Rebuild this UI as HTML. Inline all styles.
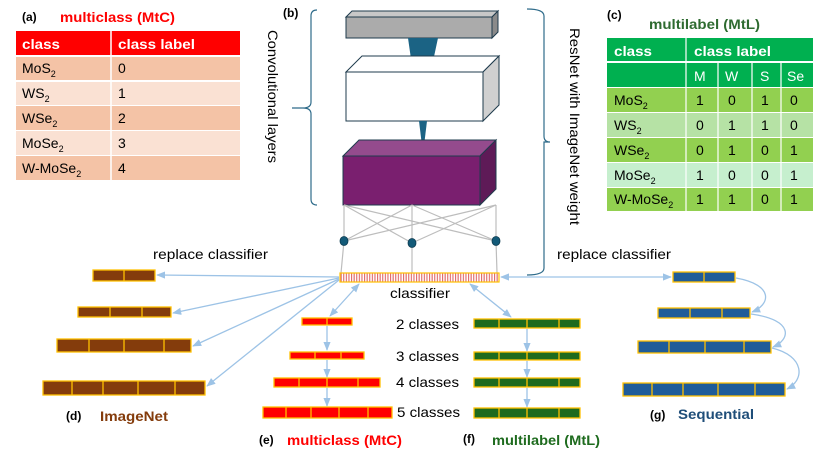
<!DOCTYPE html>
<html><head><meta charset="utf-8"><style>
body{margin:0;background:#fff;}
svg{display:block;font-family:"Liberation Sans",sans-serif;}
</style></head><body>
<svg width="830" height="467" viewBox="0 0 830 467" xmlns="http://www.w3.org/2000/svg">
<defs>
<marker id="ah" viewBox="0 0 10 10" refX="9" refY="5" markerWidth="7" markerHeight="7" orient="auto-start-reverse"><path d="M0,1 L10,5 L0,9 z" fill="#9dc3e6"/></marker>
<pattern id="stripe" width="2.6" height="10" patternUnits="userSpaceOnUse"><rect width="2.6" height="10" fill="#fff"/><rect width="1.1" height="10" fill="#e06666"/></pattern>
</defs>

<!-- (a) table -->
<text x="22" y="21" font-size="12" font-weight="bold">(a)</text>
<text x="60" y="22" font-size="14" font-weight="bold" fill="#ff0000" textLength="115" lengthAdjust="spacingAndGlyphs">multiclass (MtC)</text>
<rect x="16" y="31" width="224" height="24" fill="#ff0000"/>
<rect x="16" y="57" width="224" height="23" fill="#f4c3a6"/>
<rect x="16" y="82" width="224" height="23" fill="#fae1d3"/>
<rect x="16" y="106" width="224" height="24" fill="#f4c3a6"/>
<rect x="16" y="131" width="224" height="24" fill="#fae1d3"/>
<rect x="16" y="156" width="224" height="24" fill="#f4c3a6"/>
<line x1="111" y1="31" x2="111" y2="180" stroke="#fff" stroke-width="1.5"/>
<g font-size="14">
<text x="22" y="49" fill="#fff" font-weight="bold" textLength="38" lengthAdjust="spacingAndGlyphs">class</text>
<text x="118" y="49" fill="#fff" font-weight="bold" textLength="77" lengthAdjust="spacingAndGlyphs">class label</text>
<text x="22" y="73">MoS<tspan font-size="9" dy="4">2</tspan></text><text x="118" y="73">0</text>
<text x="22" y="98">WS<tspan font-size="9" dy="4">2</tspan></text><text x="118" y="98">1</text>
<text x="22" y="123">WSe<tspan font-size="9" dy="4">2</tspan></text><text x="118" y="123">2</text>
<text x="22" y="148">MoSe<tspan font-size="9" dy="4">2</tspan></text><text x="118" y="148">3</text>
<text x="22" y="173">W-MoSe<tspan font-size="9" dy="4">2</tspan></text><text x="118" y="173">4</text>
</g>

<!-- (c) table -->
<text x="607" y="19" font-size="12" font-weight="bold">(c)</text>
<text x="649" y="29" font-size="14" font-weight="bold" fill="#2e6b30" textLength="111" lengthAdjust="spacingAndGlyphs">multilabel (MtL)</text>
<rect x="607" y="38" width="206" height="23" fill="#00b050"/>
<rect x="607" y="63" width="206" height="24" fill="#00b050"/>
<rect x="607" y="88" width="206" height="24" fill="#92d050"/>
<rect x="607" y="113" width="206" height="24" fill="#b6e2a5"/>
<rect x="607" y="138" width="206" height="24" fill="#92d050"/>
<rect x="607" y="163" width="206" height="24" fill="#c6efce"/>
<rect x="607" y="188" width="206" height="23" fill="#92d050"/>
<g stroke="#fff" stroke-width="1.2">
<line x1="686" y1="38" x2="686" y2="211"/>
<line x1="718" y1="62" x2="718" y2="211"/><line x1="752" y1="62" x2="752" y2="211"/><line x1="781" y1="62" x2="781" y2="211"/>
</g>
<g font-size="14">
<text x="614" y="56" fill="#fff" font-weight="bold" textLength="38" lengthAdjust="spacingAndGlyphs">class</text>
<text x="694" y="56" fill="#fff" font-weight="bold" textLength="77" lengthAdjust="spacingAndGlyphs">class label</text>
<text x="694" y="81" fill="#fff">M</text><text x="725" y="81" fill="#fff">W</text><text x="760" y="81" fill="#fff">S</text><text x="787" y="81" fill="#fff">Se</text>
<text x="614" y="105">MoS<tspan font-size="9" dy="4">2</tspan></text>
<text x="614" y="130">WS<tspan font-size="9" dy="4">2</tspan></text>
<text x="614" y="155">WSe<tspan font-size="9" dy="4">2</tspan></text>
<text x="614" y="180">MoSe<tspan font-size="9" dy="4">2</tspan></text>
<text x="614" y="204">W-MoSe<tspan font-size="9" dy="4">2</tspan></text>
<text x="696" y="105">1</text><text x="728" y="105">0</text><text x="761" y="105">1</text><text x="790" y="105">0</text>
<text x="696" y="130">0</text><text x="728" y="130">1</text><text x="761" y="130">1</text><text x="790" y="130">0</text>
<text x="696" y="155">0</text><text x="728" y="155">1</text><text x="761" y="155">0</text><text x="790" y="155">1</text>
<text x="696" y="180">1</text><text x="728" y="180">0</text><text x="761" y="180">0</text><text x="790" y="180">1</text>
<text x="696" y="204">1</text><text x="728" y="204">1</text><text x="761" y="204">0</text><text x="790" y="204">1</text>
</g>

<!-- (b) network -->
<text x="283" y="17" font-size="12" font-weight="bold">(b)</text>
<path d="M317,10 Q311,10 311,16 L311,102 Q311,108 303,108 L292,108 L303,108 Q311,108 311,114 L311,199 Q311,205 317,205" fill="none" stroke="#2e6b8a" stroke-width="1.2"/>
<path d="M527,9 Q544,9 544,16 L544,136 Q544,142 550,142 L544,142 Q544,148 544,154 L544,268 Q544,275 527,275" fill="none" stroke="#2e6b8a" stroke-width="1.2"/>
<text transform="translate(268,30) rotate(90)" font-size="14" textLength="133" lengthAdjust="spacingAndGlyphs">Convolutional layers</text>
<text transform="translate(570,28) rotate(90)" font-size="14" textLength="197" lengthAdjust="spacingAndGlyphs">ResNet with ImageNet weight</text>

<polygon points="346,17 352,11 498,11 492,17" fill="#c8c8c8" stroke="#1f3b4d" stroke-width="1"/>
<polygon points="492,17 498,11 498,32 492,38" fill="#8a8a8a" stroke="#1f3b4d" stroke-width="1"/>
<rect x="346" y="17" width="146" height="21" fill="#ababab" stroke="#1f3b4d" stroke-width="1"/>
<polygon points="408,38 438,38 432,66 412,66" fill="#1b6384"/>
<polygon points="346,72 362,56 499,56 483,72" fill="#fff" stroke="#1f3b4d" stroke-width="1"/>
<polygon points="483,72 499,56 499,105 483,121" fill="#d0d0d0" stroke="#1f3b4d" stroke-width="1"/>
<rect x="346" y="72" width="137" height="49" fill="#fff" stroke="#1f3b4d" stroke-width="1"/>
<polygon points="419,121 427,121 423,154" fill="#1b6384"/>
<polygon points="343,156 359,140 496,140 480,156" fill="#944b8d" stroke="#1f3b4d" stroke-width="1"/>
<polygon points="480,156 496,140 496,189 480,205" fill="#5e1a57" stroke="#1f3b4d" stroke-width="1"/>
<rect x="343" y="156" width="137" height="49" fill="#7a1f6f" stroke="#1f3b4d" stroke-width="1"/>
<g stroke="#bdbdbd" stroke-width="1.2">
<line x1="344" y1="205" x2="344" y2="241"/><line x1="344" y1="205" x2="412" y2="243"/><line x1="344" y1="205" x2="496" y2="241"/>
<line x1="412" y1="205" x2="344" y2="241"/><line x1="412" y1="205" x2="412" y2="243"/><line x1="412" y1="205" x2="496" y2="241"/>
<line x1="496" y1="205" x2="344" y2="241"/><line x1="496" y1="205" x2="412" y2="243"/><line x1="496" y1="205" x2="496" y2="241"/>
<line x1="344" y1="241" x2="341" y2="273"/><line x1="412" y1="243" x2="412" y2="273"/><line x1="496" y1="241" x2="497" y2="273"/>
</g>
<g fill="#135a78" stroke="#0c3b50" stroke-width="0.8">
<ellipse cx="344" cy="241" rx="4" ry="4.5"/><ellipse cx="412" cy="243" rx="4" ry="4.5"/><ellipse cx="496" cy="241" rx="4" ry="4.5"/>
</g>
<rect x="340" y="273" width="159" height="9" fill="url(#stripe)" stroke="#ffc000" stroke-width="1.2"/>
<text x="390" y="298" font-size="14" textLength="60" lengthAdjust="spacingAndGlyphs">classifier</text>

<text x="153" y="259" font-size="14" textLength="115" lengthAdjust="spacingAndGlyphs">replace classifier</text>
<text x="557" y="259" font-size="14" textLength="114" lengthAdjust="spacingAndGlyphs">replace classifier</text>

<g stroke="#9dc3e6" stroke-width="1.3" fill="none">
<line x1="339" y1="277" x2="157" y2="275" marker-end="url(#ah)"/>
<line x1="339" y1="278" x2="173" y2="313" marker-end="url(#ah)"/>
<line x1="339" y1="279" x2="193" y2="346" marker-end="url(#ah)"/>
<line x1="339" y1="280" x2="207" y2="386" marker-end="url(#ah)"/>
<line x1="359" y1="284" x2="330" y2="316" marker-start="url(#ah)" marker-end="url(#ah)"/>
<line x1="470" y1="284" x2="511" y2="317" marker-start="url(#ah)" marker-end="url(#ah)"/>
<line x1="501" y1="277" x2="671" y2="277" marker-start="url(#ah)" marker-end="url(#ah)"/>
<line x1="327" y1="326" x2="327" y2="350" marker-end="url(#ah)"/>
<line x1="327" y1="360" x2="327" y2="377" marker-end="url(#ah)"/>
<line x1="327" y1="388" x2="327" y2="406" marker-end="url(#ah)"/>
<line x1="527" y1="329" x2="527" y2="351" marker-end="url(#ah)"/>
<line x1="527" y1="361" x2="527" y2="377" marker-end="url(#ah)"/>
<line x1="527" y1="388" x2="527" y2="407" marker-end="url(#ah)"/>
<path d="M736,278 C775,285 770,305 752,312" marker-end="url(#ah)"/>
<path d="M751,314 C795,320 790,340 773,347" marker-end="url(#ah)"/>
<path d="M772,348 C805,356 805,380 787,389" marker-end="url(#ah)"/>
</g>

<g stroke="#ffc000" stroke-width="1.3">
<g fill="#843c0c">
<rect x="93" y="270" width="62" height="11"/><line x1="124" y1="270" x2="124" y2="281"/>
<rect x="78" y="307" width="93" height="10"/><line x1="110" y1="307" x2="110" y2="317"/><line x1="142" y1="307" x2="142" y2="317"/>
<rect x="57" y="339" width="134" height="13"/><line x1="89" y1="339" x2="89" y2="352"/><line x1="124" y1="339" x2="124" y2="352"/><line x1="164" y1="339" x2="164" y2="352"/>
<rect x="43" y="381" width="162" height="14"/><line x1="72" y1="381" x2="72" y2="395"/><line x1="103" y1="381" x2="103" y2="395"/><line x1="138" y1="381" x2="138" y2="395"/><line x1="175" y1="381" x2="175" y2="395"/>
</g>
<g fill="#ff0000">
<rect x="302" y="318" width="50" height="7"/><line x1="327" y1="318" x2="327" y2="325"/>
<rect x="290" y="352" width="74" height="7"/><line x1="315" y1="352" x2="315" y2="359"/><line x1="341" y1="352" x2="341" y2="359"/>
<rect x="274" y="378" width="106" height="9"/><line x1="299" y1="378" x2="299" y2="387"/><line x1="327" y1="378" x2="327" y2="387"/><line x1="358" y1="378" x2="358" y2="387"/>
<rect x="263" y="407" width="129" height="11"/><line x1="286" y1="407" x2="286" y2="418"/><line x1="311" y1="407" x2="311" y2="418"/><line x1="339" y1="407" x2="339" y2="418"/><line x1="368" y1="407" x2="368" y2="418"/>
</g>
<g fill="#1e6b1e">
<rect x="474" y="319" width="106" height="9"/><line x1="499" y1="319" x2="499" y2="328"/><line x1="527" y1="319" x2="527" y2="328"/><line x1="559" y1="319" x2="559" y2="328"/>
<rect x="474" y="352" width="106" height="8"/><line x1="499" y1="352" x2="499" y2="360"/><line x1="527" y1="352" x2="527" y2="360"/><line x1="559" y1="352" x2="559" y2="360"/>
<rect x="474" y="378" width="106" height="9"/><line x1="499" y1="378" x2="499" y2="387"/><line x1="527" y1="378" x2="527" y2="387"/><line x1="559" y1="378" x2="559" y2="387"/>
<rect x="474" y="408" width="106" height="10"/><line x1="499" y1="408" x2="499" y2="418"/><line x1="527" y1="408" x2="527" y2="418"/><line x1="559" y1="408" x2="559" y2="418"/>
</g>
<g fill="#1f5c99">
<rect x="673" y="272" width="62" height="10"/><line x1="704" y1="272" x2="704" y2="282"/>
<rect x="658" y="308" width="92" height="10"/><line x1="690" y1="308" x2="690" y2="318"/><line x1="722" y1="308" x2="722" y2="318"/>
<rect x="638" y="341" width="133" height="12"/><line x1="669" y1="341" x2="669" y2="353"/><line x1="705" y1="341" x2="705" y2="353"/><line x1="744" y1="341" x2="744" y2="353"/>
<rect x="623" y="383" width="162" height="13"/><line x1="652" y1="383" x2="652" y2="396"/><line x1="683" y1="383" x2="683" y2="396"/><line x1="718" y1="383" x2="718" y2="396"/><line x1="755" y1="383" x2="755" y2="396"/>
</g>
</g>

<g font-size="14">
<text x="396" y="329" textLength="63" lengthAdjust="spacingAndGlyphs">2 classes</text>
<text x="396" y="361" textLength="63" lengthAdjust="spacingAndGlyphs">3 classes</text>
<text x="396" y="387" textLength="63" lengthAdjust="spacingAndGlyphs">4 classes</text>
<text x="397" y="417" textLength="63" lengthAdjust="spacingAndGlyphs">5 classes</text>
</g>

<text x="66" y="420" font-size="12" font-weight="bold">(d)</text>
<text x="100" y="421" font-size="14" font-weight="bold" fill="#843c0c" textLength="68" lengthAdjust="spacingAndGlyphs">ImageNet</text>
<text x="259" y="444" font-size="12" font-weight="bold">(e)</text>
<text x="287" y="445" font-size="14" font-weight="bold" fill="#ff0000" textLength="115" lengthAdjust="spacingAndGlyphs">multiclass (MtC)</text>
<text x="463" y="443" font-size="12" font-weight="bold">(f)</text>
<text x="492" y="445" font-size="14" font-weight="bold" fill="#1e6b1e" textLength="108" lengthAdjust="spacingAndGlyphs">multilabel (MtL)</text>
<text x="650" y="419" font-size="12" font-weight="bold">(g)</text>
<text x="678" y="419" font-size="14" font-weight="bold" fill="#1f4e79" textLength="76" lengthAdjust="spacingAndGlyphs">Sequential</text>
</svg>
</body></html>
